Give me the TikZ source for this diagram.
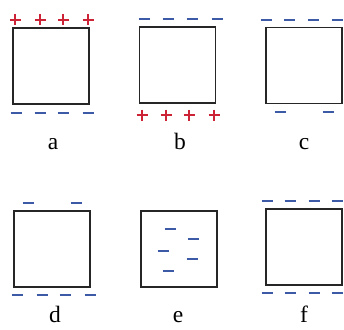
\documentclass[tikz,border=0pt]{standalone}
\usepackage{fontspec}
\setmainfont{Liberation Serif}
\definecolor{chred}{RGB}{205,35,55}
\definecolor{chblue}{RGB}{60,90,165}
\tikzset{
  x=1pt,y=-1pt,
  plate/.style={draw=black!85,line width=1.8pt},
  lbl/.style={font=\fontsize{23.5}{26}\selectfont,inner sep=0pt,anchor=base},
  negline/.style={draw=chblue,line width=2.2pt},
  posline/.style={draw=chred,line width=2.4pt},
}
\newcommand{\chneg}[2]{\draw[negline] (#1-5.5,#2) -- (#1+5.5,#2);}
\newcommand{\chpos}[2]{\draw[posline] (#1-5.5,#2) -- (#1+5.5,#2) (#1,#2-5.5) -- (#1,#2+5.5);}
\begin{document}
\begin{tikzpicture}
\useasboundingbox (0,0) rectangle (344,329);
% a
\node[plate,minimum size=76pt,inner sep=0pt] (A) at (51,66) {};
\foreach \x in {15,40,63,88} {\chpos{\x}{20}}
\foreach \x in {16,40,63,88} {\chneg{\x}{113}}
\node[lbl] (la) at (53,149) {a};
% b
\node[plate,minimum size=76pt,inner sep=0pt] (B) at (177.5,65) {};
\foreach \x in {144,168,192,217} {\chneg{\x}{19}}
\foreach \x in {142,166,189,214} {\chpos{\x}{115}}
\node[lbl] (lb) at (180,149) {b};
% c
\node[plate,minimum size=76pt,inner sep=0pt] (C) at (304,65.5) {};
\foreach \x in {266,289,313,337} {\chneg{\x}{20}}
\foreach \x in {280,328} {\chneg{\x}{112}}
\node[lbl] (lc) at (304,149) {c};
% d
\node[plate,minimum size=76pt,inner sep=0pt] (D) at (52,249) {};
\foreach \x in {28,76} {\chneg{\x}{203}}
\foreach \x in {17,42,65,90} {\chneg{\x}{295}}
\node[lbl] (ld) at (55,322) {d};
% e
\node[plate,minimum size=76pt,inner sep=0pt] (E) at (179,249) {};
\chneg{170}{229}
\chneg{193}{239}
\chneg{163}{251}
\chneg{192}{259}
\chneg{168}{271}
\node[lbl] (le) at (178,322) {e};
% f
\node[plate,minimum size=76pt,inner sep=0pt] (F) at (304,247) {};
\foreach \x in {267,290,314,337} {\chneg{\x}{201}}
\foreach \x in {267,290,314,337} {\chneg{\x}{293}}
\node[lbl] (lf) at (304,322) {f};
\end{tikzpicture}
\end{document}
